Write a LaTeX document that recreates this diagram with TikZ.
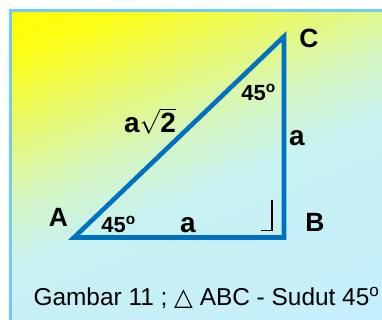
\documentclass[tikz,border=0pt]{standalone}
\usepackage{fontspec}
\setmainfont{Liberation Sans}
\newfontfamily\trifont{DejaVu Sans}
\usetikzlibrary{positioning}

\definecolor{triblue}{RGB}{0,112,192}
\definecolor{framebl}{RGB}{110,205,245}
\definecolor{bgyel}{RGB}{255,255,0}
\definecolor{bgyel2}{RGB}{252,254,25}
\definecolor{bgmid1}{RGB}{226,248,135}
\definecolor{bgmid2}{RGB}{212,246,195}
\definecolor{bgmid3}{RGB}{200,241,242}
\definecolor{bgcyan}{RGB}{196,238,252}
% the path box spans 25bp..75bp of the shading
\pgfdeclareverticalshading{bgfade}{100bp}{color(0bp)=(bgcyan); color(25bp)=(bgcyan);
  color(47bp)=(bgmid3); color(54bp)=(bgmid2); color(59.6bp)=(bgmid1);
  color(69.8bp)=(bgyel2); color(75bp)=(bgyel); color(100bp)=(bgyel)}

\begin{document}
\begin{tikzpicture}[x=1bp,y=1bp,
    every node/.style={inner sep=0pt},
    side/.style={draw=triblue,line width=4.6bp,line join=miter},
    vlabel/.style={font=\fontsize{26.5}{26.5}\selectfont\bfseries},
    anglab/.style={font=\fontsize{22}{22}\selectfont\bfseries,anchor=base},
    lenlab/.style={font=\fontsize{28}{28}\selectfont\bfseries,anchor=base},
    captext/.style={font=\fontsize{24.5}{24.5}\selectfont,anchor=base},
  ]
  \useasboundingbox (0,0) rectangle (382,320);
  \begin{scope}
    \clip (10.5,0) rectangle (382,309.5);
    \begin{scope}[transform canvas={rotate around={22:(10.5,309.5)}}]
      \shade[shading=bgfade] (-500,309.5) rectangle (800,-120.5);
    \end{scope}
  \end{scope}
  \draw[framebl,line width=3bp] (10.5,-10) |- (400,309.5);

  \coordinate (A) at (74,82.5);
  \coordinate (B) at (284,82.5);
  \coordinate (C) at (284,283.5);
  \draw[side] (A) -- (B) -- (C) -- cycle;
  \draw[black,line width=1.1bp] (272,120) |- (261,89.3);

  \node[vlabel] (la) at (58.5,102.5) {A};
  \node[vlabel] (lb) at (315,97.5) {B};
  \node[vlabel] (lc) at (309,281.5) {C};
  \node[anglab] (anga) at (118.5,88) {45\textsuperscript{o}};
  \node[anglab] (angc) at (258.5,220) {45\textsuperscript{o}};
  \node[lenlab] (ab) at (188,88) {a};
  \node[lenlab] (bc) at (297,175) {a};
  \node[lenlab] (ac) at (150,188) {a$\sqrt{\hbox{2}}$};
  \node[captext] (caption) at (206.5,15) {Gambar 11 ; {\trifont △} ABC - Sudut 45\textsuperscript{o}};
\end{tikzpicture}
\end{document}
